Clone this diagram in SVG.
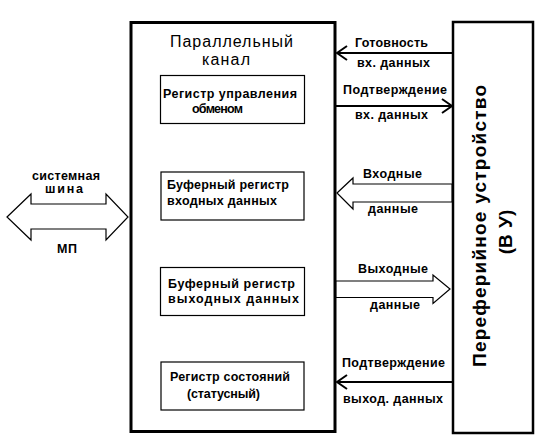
<svg xmlns="http://www.w3.org/2000/svg" width="546" height="443" viewBox="0 0 546 443">
  <style>
    text { font-family: "Liberation Sans", Arial, sans-serif; fill: #000; }
    .lbl { font-size: 12.5px; font-weight: bold; }
    .title { font-size: 16px; }
    .vert { font-size: 19px; font-weight: bold; }
    .reg { fill: #fff; stroke: #000; stroke-width: 1.2; }
    .thick { fill: #fff; stroke: #000; stroke-width: 3; }
    .dev { fill: #fff; stroke: #000; stroke-width: 2.5; }
    .sig { stroke: #000; stroke-width: 2; fill: none; }
    .big { fill: #fff; stroke: #000; stroke-width: 1.2; stroke-linejoin: miter; }
  </style>
  <defs>
    <marker id="open" markerUnits="userSpaceOnUse" markerWidth="14" markerHeight="18" viewBox="0 0 14 18" refX="11" refY="9" orient="auto">
      <path d="M1,2 L11,9 L1,16" fill="none" stroke="#000" stroke-width="2"/>
    </marker>
  </defs>
  <rect x="0" y="0" width="546" height="443" fill="#fff"/>

  <g id="system-bus">
    <polygon class="big" points="7,217 31,194 31,204 106,204 106,194 128,217 106,240 106,229 31,229 31,240"/>
    <text class="lbl" x="32" y="180" textLength="68" lengthAdjust="spacing">системная</text>
    <text class="lbl" x="45" y="193" textLength="38" lengthAdjust="spacing">шина</text>
    <text class="lbl" x="57" y="253" textLength="20" lengthAdjust="spacing">МП</text>
  </g>

  <g id="parallel-channel">
    <rect class="thick" x="131" y="22.5" width="204" height="409"/>
    <text class="title" x="170" y="46.5" textLength="123" lengthAdjust="spacing">Параллельный</text>
    <text class="title" x="202" y="65" textLength="48" lengthAdjust="spacing">канал</text>
  </g>

  <g id="reg-control">
    <rect class="reg" x="160.5" y="75.5" width="144" height="48"/>
    <text class="lbl" x="163" y="98" textLength="134" lengthAdjust="spacing">Регистр управления</text>
    <text class="lbl" x="192" y="113" textLength="51" lengthAdjust="spacing">обменом</text>
  </g>

  <g id="reg-input">
    <rect class="reg" x="161" y="172" width="143" height="48"/>
    <text class="lbl" x="167" y="189" textLength="122" lengthAdjust="spacing">Буферный регистр</text>
    <text class="lbl" x="167" y="205" textLength="110" lengthAdjust="spacing">входных данных</text>
  </g>

  <g id="reg-output">
    <rect class="reg" x="160.5" y="267.5" width="144" height="48"/>
    <text class="lbl" x="168" y="288" textLength="127" lengthAdjust="spacing">Буферный регистр</text>
    <text class="lbl" x="168" y="303" textLength="131" lengthAdjust="spacing">выходных данных</text>
  </g>

  <g id="reg-status">
    <rect class="reg" x="161" y="362" width="143" height="48"/>
    <text class="lbl" x="170" y="381" textLength="120" lengthAdjust="spacing">Регистр состояний</text>
    <text class="lbl" x="187" y="398" textLength="73" lengthAdjust="spacing">(статусный)</text>
  </g>

  <g id="peripheral">
    <rect class="dev" x="453" y="22" width="80" height="411"/>
    <text class="vert" transform="translate(486,226) rotate(-90)" text-anchor="middle" textLength="282" lengthAdjust="spacing">Переферийное устройство</text>
    <text class="vert" transform="translate(512,232) rotate(-90)" text-anchor="middle" style="word-spacing:1px">(В У)</text>
  </g>

  <g id="connectors">
    <line class="sig" x1="452" y1="53" x2="337" y2="53" marker-end="url(#open)"/>
    <text class="lbl" x="355" y="47" textLength="73" lengthAdjust="spacing">Готовность</text>
    <text class="lbl" x="357" y="67" textLength="73" lengthAdjust="spacing">вх. данных</text>

    <line class="sig" x1="336" y1="106" x2="452" y2="106" marker-end="url(#open)"/>
    <text class="lbl" x="343" y="94" textLength="104" lengthAdjust="spacing">Подтверждение</text>
    <text class="lbl" x="355" y="119" textLength="73" lengthAdjust="spacing">вх. данных</text>

    <polygon class="big" points="337,193 353,178 353,184 452,184 452,202 353,202 353,209"/>
    <text class="lbl" x="363" y="178" textLength="59" lengthAdjust="spacing">Входные</text>
    <text class="lbl" x="368" y="213" textLength="50" lengthAdjust="spacing">данные</text>

    <polygon class="big" points="336,281 433,281 433,275 450,289 433,303.5 433,297.5 336,297.5"/>
    <text class="lbl" x="358" y="273" textLength="70" lengthAdjust="spacing">Выходные</text>
    <text class="lbl" x="370" y="309" textLength="50" lengthAdjust="spacing">данные</text>

    <line class="sig" x1="452" y1="382" x2="337" y2="382" marker-end="url(#open)"/>
    <text class="lbl" x="342" y="367" textLength="103" lengthAdjust="spacing">Подтверждение</text>
    <text class="lbl" x="343" y="403" textLength="100" lengthAdjust="spacing">выход. данных</text>
  </g>
</svg>
